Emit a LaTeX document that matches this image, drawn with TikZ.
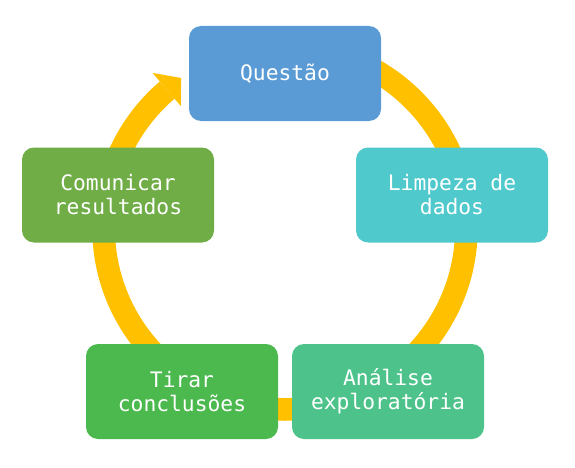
\documentclass[tikz,border=0pt]{standalone}
\usepackage{fontspec}
\newfontfamily\boxfont{DejaVu Sans Mono}
\definecolor{ringc}{HTML}{FFC000}
\definecolor{cA}{HTML}{5B9BD5}
\definecolor{cB}{HTML}{4FC9CB}
\definecolor{cC}{HTML}{4DC38B}
\definecolor{cD}{HTML}{4BB94D}
\definecolor{cE}{HTML}{70AD47}
\tikzset{
  stepbox/.style={rounded corners=12pt, minimum width=192pt, minimum height=95pt,
    inner sep=0pt, text=white, align=center,
    font=\boxfont\fontsize{21.3pt}{24pt}\selectfont},
  ringline/.style={draw=ringc, line width=22.7pt},
}
\begin{document}
\begin{tikzpicture}[x=1pt,y=1pt]
\useasboundingbox (0,0) rectangle (575,467);
\coordinate (c) at (285,239);
% ring
\draw[ringline] ([shift={(c)}]90:181.4) arc[start angle=90, end angle=-229.5, radius=181.4];
\fill[ringc] ([shift={(c)}]130.5:204) -- ([shift={(c)}]124.7:182.5) -- ([shift={(c)}]130.5:160.5) -- cycle;
% boxes
\node[stepbox, fill=cA] (q) at (285,393.5) {Questão};
\node[stepbox, fill=cB] (l) at (452,272) {Limpeza de\\dados};
\node[stepbox, fill=cC] (a) at (388,75.5) {Análise\\exploratória};
\node[stepbox, fill=cD] (t) at (182,75.5) {Tirar\\conclusões};
\node[stepbox, fill=cE] (m) at (118,272) {Comunicar\\resultados};
\end{tikzpicture}
\end{document}
